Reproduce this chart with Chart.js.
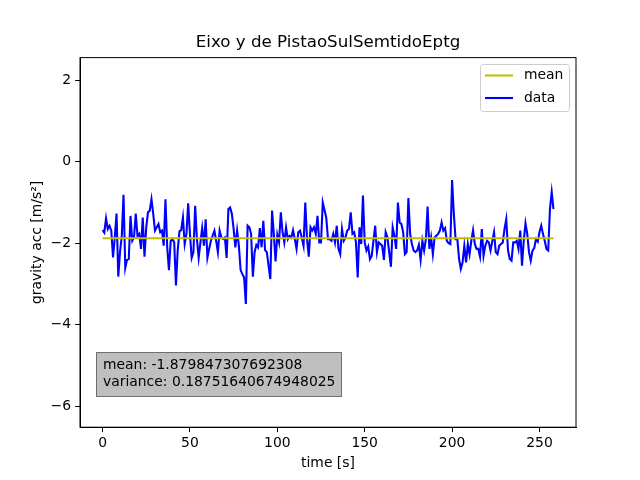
<!DOCTYPE html>
<html>
<head>
<meta charset="utf-8">
<script src="https://cdn.jsdelivr.net/npm/chart.js@4/dist/chart.umd.min.js"></script>
<style>
  html, body { margin: 0; padding: 0; background: #fff; }
</style>
</head>
<body>
<canvas id="chart" width="640" height="480"></canvas>
<script>
// time stamps [s] of the samples
const timeSeries = [
  0,1,2,3,4,5,6,7,8,9,10,11,12,13,14,15,16,17,18,19,20,21,22,23,24,25,26,27,28,29,30,
  32,33,34,35,36,37,38,39,40,41,42,43,44,45,46,47,48,49,50,51,52,53,54,55,56,57,58,59,60,61,62,
  64,65,66,67,68,69,70,71,72,73,74,75,76,77,78,79,80,81,82,83,84,85,86,87,88,89,90,91,92,93,94,
  96,97,98,99,100,101,102,103,104,105,106,107,108,109,110,111,112,113,114,115,116,117,118,119,120,121,122,123,124,125,126,
  128,129,130,131,132,133,134,135,136,137,138,139,140,141,142,143,144,145,146,147,148,149,150,151,152,153,154,155,156,157,158,
  160,161,162,163,164,165,166,167,168,169,170,171,172,173,174,175,176,177,178,179,180,181,182,183,184,185,186,187,188,189,190,
  192,193,194,195,196,197,198,199,200,201,202,203,204,205,206,207,208,209,210,211,212,213,214,215,216,217,218,219,220,221,222,
  224,225,226,227,228,229,230,231,232,233,234,235,236,237,238,239,240,241,242,243,244,245,246,247,248,249,250,251,252,253,254,255,256,257,258
];

// gravity acceleration, y axis [m/s²]
const gravityY = [
  -1.68,-1.74,-1.39,-1.65,-1.57,-1.69,-2.35,-1.86,-1.27,-2.82,
  -2.22,-1.82,-0.81,-2.61,-2.41,-2.39,-1.33,-1.94,-1.86,-1.27,
  -1.82,-1.77,-2.14,-1.37,-2.33,-1.61,-1.24,-1.20,-0.92,-1.28,
  -1.69,-1.53,-1.73,-1.69,-2.06,-0.92,-2.10,-2.66,-1.94,-1.90,
  -1.98,-3.04,-2.18,-1.71,-1.68,-1.37,-2.02,-1.77,-1.02,-1.77,
  -2.36,-2.22,-1.08,-1.90,-2.36,-1.98,-1.63,-2.06,-1.41,-2.36,
  -2.14,-1.94,-1.69,-1.94,-2.22,-1.69,-1.86,-1.90,-1.86,-2.36,
  -1.16,-1.12,-1.28,-1.65,-2.10,-1.69,-2.06,-2.66,-2.76,-2.84,
  -3.49,-1.57,-1.61,-1.77,-2.82,-2.22,-2.04,-2.10,-1.63,-2.10,
  -1.45,-2.17,-2.22,-2.88,-1.20,-1.77,-2.45,-1.79,-1.98,-1.24,
  -1.73,-1.98,-1.61,-1.90,-1.82,-1.86,-1.68,-1.90,-2.14,-1.73,
  -1.69,-1.86,-2.06,-1.00,-1.90,-2.33,-1.61,-1.69,-1.61,-1.77,
  -1.33,-1.98,-1.98,-1.00,-1.37,-1.90,-1.90,-1.94,-1.77,-1.98,
  -1.57,-2.14,-2.27,-1.65,-1.94,-1.86,-1.69,-1.65,-1.24,-1.77,
  -1.73,-1.98,-2.84,-1.61,-2.02,-0.83,-1.98,-2.18,-2.08,-2.39,
  -2.31,-1.94,-1.57,-2.22,-1.98,-2.06,-2.41,-1.73,-1.86,-2.22,
  -2.58,-1.61,-1.82,-2.14,-1.00,-1.49,-1.53,-1.73,-2.27,-2.22,
  -0.89,-1.77,-2.02,-2.18,-2.22,-2.18,-2.04,-2.41,-1.94,-2.18,
  -1.90,-1.10,-2.14,-1.86,-2.27,-1.86,-1.77,-1.69,-1.49,-1.69,
  -1.63,-1.94,-2.00,-2.02,-0.45,-1.28,-1.90,-1.90,-2.39,-2.63,
  -2.47,-2.06,-2.47,-2.02,-2.27,-1.94,-1.68,-2.02,-2.14,-2.14,
  -2.33,-1.65,-2.31,-2.06,-1.94,-1.98,-2.18,-1.73,-2.22,-2.27,
  -2.06,-2.02,-1.98,-1.65,-1.41,-2.18,-2.39,-2.43,-1.98,-1.98,
  -1.94,-2.14,-1.69,-2.55,-1.94,-1.51,-1.77,-2.22,-2.43,-2.18,
  -2.12,-1.90,-1.96,-1.73,-1.57,-1.77,-1.94,-2.14,-2.18,-1.16,
  -0.74,-1.16
];

const meanValue = -1.879847307692308;
const varianceValue = 0.18751640674948025;
const meanTimes = [0, 258];
const meanValues = [meanValue, meanValue];

const xTicks = [0, 50, 100, 150, 200, 250];
const yTicks = [-6, -4, -2, 0, 2];

const FONT = '"DejaVu Sans", sans-serif';

// title, axis labels, frame, legend and stats box, matplotlib style
const decorations = {
  id: "decorations",
  afterDraw(chart) {
    const ctx = chart.ctx;
    const a = chart.chartArea;
    ctx.save();

    ctx.strokeStyle = "black";
    ctx.lineWidth = 1;
    ctx.strokeRect(a.left, a.top, a.right - a.left, a.bottom - a.top);

    ctx.fillStyle = "black";
    ctx.textAlign = "center";
    ctx.textBaseline = "middle";
    ctx.font = "16.7px " + FONT;
    ctx.fillText("Eixo y de PistaoSulSemtidoEptg", (a.left + a.right) / 2, 43);

    ctx.font = "13.9px " + FONT;
    ctx.fillText("time [s]", (a.left + a.right) / 2, 463);

    ctx.save();
    ctx.translate(37, (a.top + a.bottom) / 2);
    ctx.rotate(-Math.PI / 2);
    ctx.fillText("gravity acc [m/s²]", 0, 0);
    ctx.restore();

    // legend
    ctx.beginPath();
    ctx.roundRect(480.5, 64.5, 89, 47, 3);
    ctx.fillStyle = "rgba(255,255,255,0.8)";
    ctx.fill();
    ctx.strokeStyle = "#cccccc";
    ctx.stroke();
    ctx.lineWidth = 2.08;
    ctx.strokeStyle = "rgb(191,191,0)";
    ctx.beginPath(); ctx.moveTo(485, 75.5); ctx.lineTo(513, 75.5); ctx.stroke();
    ctx.strokeStyle = "rgb(0,0,255)";
    ctx.beginPath(); ctx.moveTo(485, 98); ctx.lineTo(513, 98); ctx.stroke();
    ctx.fillStyle = "black";
    ctx.textAlign = "left";
    ctx.fillText("mean", 524, 75.5);
    ctx.fillText("data", 524, 98);

    // stats box
    ctx.fillStyle = "rgba(128,128,128,0.5)";
    ctx.fillRect(96.5, 352.5, 245, 44);
    ctx.strokeStyle = "rgba(0,0,0,0.5)";
    ctx.lineWidth = 1;
    ctx.strokeRect(96.5, 352.5, 245, 44);
    ctx.fillStyle = "black";
    ctx.fillText("mean: " + meanValue, 103, 365);
    ctx.fillText("variance: " + varianceValue, 103, 382);

    ctx.restore();
  },
};

const ctx = document.getElementById("chart").getContext("2d");
const chart = new Chart(ctx, {
  type: "line",
  data: {
    datasets: [
      {
        label: "mean",
        data: meanTimes.map((t, i) => ({ x: t, y: meanValues[i] })),
        borderColor: "rgb(191,191,0)",
        borderWidth: 2.08,
        pointRadius: 0,
        tension: 0,
        fill: false,
      },
      {
        label: "data",
        data: timeSeries.map((t, i) => ({ x: t, y: gravityY[i] })),
        borderColor: "rgb(0,0,255)",
        borderWidth: 2.08,
        pointRadius: 0,
        tension: 0,
        fill: false,
      },
    ],
  },
  options: {
    responsive: false,
    animation: false,
    layout: { padding: { top: 57.6, right: 64, left: 0, bottom: 0 } },
    plugins: {
      legend: { display: false },
      tooltip: { enabled: false },
    },
    scales: {
      x: {
        type: "linear",
        min: -12.9,
        max: 270.9,
        afterFit: (scale) => { scale.height = 52.8; },
        afterBuildTicks: (scale) => { scale.ticks = xTicks.map((v) => ({ value: v })); },
        grid: { drawOnChartArea: false, color: "black", tickLength: 4.9, lineWidth: 1 },
        border: { color: "black" },
        ticks: { color: "black", padding: 3, font: { family: FONT, size: 13.9 } },
      },
      y: {
        min: -6.52,
        max: 2.56,
        afterFit: (scale) => { scale.width = 80; },
        afterBuildTicks: (scale) => { scale.ticks = yTicks.map((v) => ({ value: v })); },
        grid: { drawOnChartArea: false, color: "black", tickLength: 4.9, lineWidth: 1 },
        border: { color: "black" },
        ticks: {
          color: "black",
          padding: 4,
          font: { family: FONT, size: 13.9 },
          callback: (v) => String(v).replace("-", "\u2212"),
        },
      },
    },
  },
  plugins: [decorations],
});
</script>
</body>
</html>
